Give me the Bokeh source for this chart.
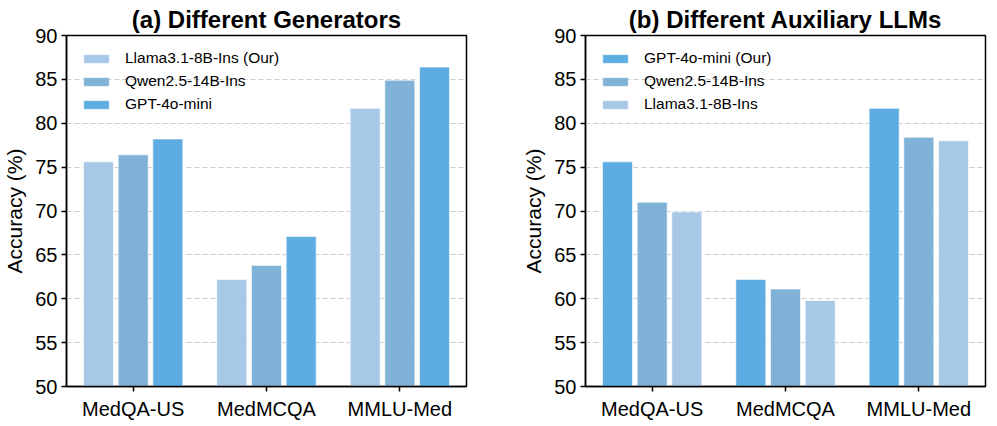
from bokeh.plotting import figure
from bokeh.layouts import row
from bokeh.models import ColumnDataSource, FactorRange, Legend, LegendItem, SingleIntervalTicker
from bokeh.transform import dodge
from bokeh.embed import file_html
from bokeh.resources import INLINE

datasets = ["MedQA-US", "MedMCQA", "MMLU-Med"]

# (a) Different Generators
gen_names = ["Llama3.1-8B-Ins (Our)", "Qwen2.5-14B-Ins", "GPT-4o-mini"]
gen_llama = [75.6, 62.2, 81.7]
gen_qwen = [76.4, 63.8, 84.9]
gen_gpt = [78.2, 67.1, 86.4]

# (b) Different Auxiliary LLMs
aux_names = ["GPT-4o-mini (Our)", "Qwen2.5-14B-Ins", "Llama3.1-8B-Ins"]
aux_gpt = [75.6, 62.2, 81.7]
aux_qwen = [71.0, 61.1, 78.4]
aux_llama = [69.9, 59.8, 78.0]

C_LIGHT = "#A8C8E8"
C_MID = "#7FB2D6"
C_BRIGHT = "#5DADE2"

FONT = "Liberation Sans"


def make_panel(title, names, series, colors, bl, br):
    src = ColumnDataSource(dict(cat=datasets, s0=series[0], s1=series[1], s2=series[2]))
    p = figure(x_range=FactorRange(*datasets, range_padding=0), y_range=(50, 90),
               frame_width=400, frame_height=351, output_backend="svg", toolbar_location=None,
               min_border_left=bl, min_border_right=br, min_border_top=10, min_border_bottom=30)
    p.title.text = title
    p.title.align = "center"
    p.title.text_font = FONT
    p.title.text_font_style = "bold"
    p.title.text_font_size = "24px"
    p.title.text_color = "black"
    p.title.standoff = 6

    offsets = [-0.26, 0.0, 0.26]
    renderers = []
    for k, (off, col) in enumerate(zip(offsets, colors)):
        r = p.vbar(x=dodge("cat", off, range=p.x_range), top="s%d" % k, bottom=50,
                   width=0.225, source=src, fill_color=col, line_color="white",
                   line_width=1, line_alpha=0.6)
        renderers.append(r)

    legend = Legend(items=[LegendItem(label=n, renderers=[r]) for n, r in zip(names, renderers)],
                    location="top_left", margin=0, padding=14, spacing=5,
                    label_height=17, glyph_height=11, glyph_width=32, label_standoff=13,
                    label_text_font=FONT, label_text_font_size="15.5px",
                    label_text_color="black",
                    border_line_alpha=0, background_fill_alpha=0)
    p.add_layout(legend)

    p.outline_line_color = "black"
    p.outline_line_width = 1.5

    p.xgrid.grid_line_color = None
    p.ygrid.grid_line_color = "#cccccc"
    p.ygrid.grid_line_dash = "5 3"
    p.ygrid.grid_line_width = 1
    p.yaxis.ticker = SingleIntervalTicker(interval=5)
    p.yaxis.minor_tick_line_color = None

    for ax in (p.xaxis[0], p.yaxis[0]):
        ax.axis_line_color = "black"
        ax.axis_line_width = 1.5
        ax.major_tick_line_color = "black"
        ax.major_tick_line_width = 1.5
        ax.major_tick_out = 5
        ax.major_tick_in = 0
        ax.major_label_text_font = FONT
        ax.major_label_text_font_size = "20px"
        ax.major_label_text_color = "black"
    p.xaxis.group_text_font_size = "0px"
    p.xaxis.major_label_standoff = 6
    p.yaxis.major_label_standoff = 4
    p.yaxis.axis_label = "Accuracy (%)"
    p.yaxis.axis_label_text_font = FONT
    p.yaxis.axis_label_text_font_size = "21px"
    p.yaxis.axis_label_text_font_style = "normal"
    p.yaxis.axis_label_text_color = "black"
    p.yaxis.axis_label_standoff = 6
    return p


p1 = make_panel("(a) Different Generators", gen_names, [gen_llama, gen_qwen, gen_gpt],
                [C_LIGHT, C_MID, C_BRIGHT], 61, 30)
p2 = make_panel("(b) Different Auxiliary LLMs", aux_names, [aux_gpt, aux_qwen, aux_llama],
                [C_BRIGHT, C_MID, C_LIGHT], 89, 2)

layout = row(p1, p2)
open("out.html", "w").write(file_html(layout, INLINE))
